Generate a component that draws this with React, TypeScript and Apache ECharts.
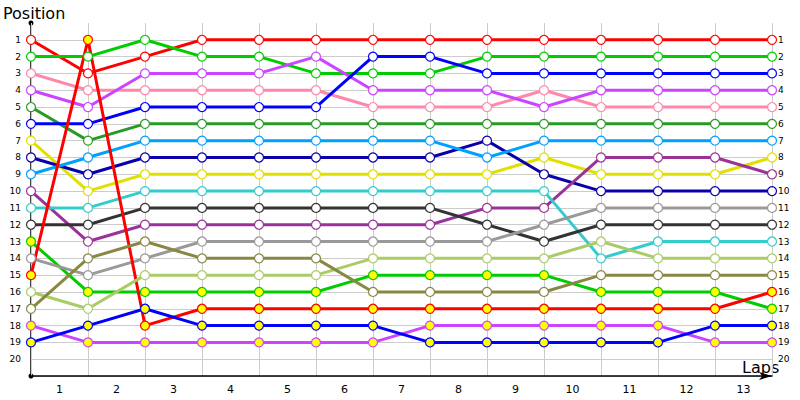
import {useEffect, useRef} from 'react';
import * as echarts from 'echarts';

// lap marks (start + 13 laps) and labels between them
const lapMarks = ['0', '1', '2', '3', '4', '5', '6', '7', '8', '9', '10', '11', '12', '13'];
const lapLabels = ['1', '2', '3', '4', '5', '6', '7', '8', '9', '10', '11', '12', '13'];

// position of each car at every lap mark
const car01 = [1, 3, 2, 1, 1, 1, 1, 1, 1, 1, 1, 1, 1, 1];
const car02 = [2, 2, 1, 2, 2, 3, 3, 3, 2, 2, 2, 2, 2, 2];
const car03 = [3, 4, 4, 4, 4, 4, 5, 5, 5, 4, 5, 5, 5, 5];
const car04 = [4, 5, 3, 3, 3, 2, 4, 4, 4, 5, 4, 4, 4, 4];
const car05 = [5, 7, 6, 6, 6, 6, 6, 6, 6, 6, 6, 6, 6, 6];
const car06 = [6, 6, 5, 5, 5, 5, 2, 2, 3, 3, 3, 3, 3, 3];
const car07 = [7, 10, 9, 9, 9, 9, 9, 9, 9, 8, 9, 9, 9, 8];
const car08 = [8, 9, 8, 8, 8, 8, 8, 8, 7, 9, 10, 10, 10, 10];
const car09 = [9, 8, 7, 7, 7, 7, 7, 7, 8, 7, 7, 7, 7, 7];
const car10 = [10, 13, 12, 12, 12, 12, 12, 12, 11, 11, 8, 8, 8, 9];
const car11 = [11, 11, 10, 10, 10, 10, 10, 10, 10, 10, 14, 13, 13, 13];
const car12 = [12, 12, 11, 11, 11, 11, 11, 11, 12, 13, 12, 12, 12, 12];
const car13 = [13, 16, 16, 16, 16, 16, 15, 15, 15, 15, 16, 16, 16, 17];
const car14 = [14, 15, 14, 13, 13, 13, 13, 13, 13, 12, 11, 11, 11, 11];
const car15 = [15, 1, 18, 17, 17, 17, 17, 17, 17, 17, 17, 17, 17, 16];
const car16 = [16, 17, 15, 15, 15, 15, 14, 14, 14, 14, 13, 14, 14, 14];
const car17 = [17, 14, 13, 14, 14, 14, 16, 16, 16, 16, 15, 15, 15, 15];
const car18 = [18, 19, 19, 19, 19, 19, 19, 18, 18, 18, 18, 18, 19, 19];
const car19 = [19, 18, 17, 18, 18, 18, 18, 19, 19, 19, 19, 19, 18, 18];

const cars = [car01, car02, car03, car04, car05, car06, car07, car08, car09, car10,
    car11, car12, car13, car14, car15, car16, car17, car18, car19];
const carColors = ['#ff0000', '#00cc00', '#ff88aa', '#cc44ff', '#279a27', '#0000ff', '#e0e000',
    '#0a00aa', '#00a0ff', '#993399', '#33cccc', '#333333', '#00cc00', '#999999', '#ff0000',
    '#aacc66', '#888844', '#cc44ff', '#0000ff'];
// cars drawn with yellow markers
const yellowCars = [13, 15, 18, 19];

const tickFont = 'DejaVu Sans';

const App = () => {
    const chartRef = useRef<HTMLDivElement>(null);

    useEffect(() => {
        const myChart = echarts.init(chartRef.current!, null, {renderer: 'svg'});

        const hideEnds = (v: number) => (v >= 1 && v <= 20 ? String(v) : '');
        // no grid line at position 0
        const hColors = Array.from({length: 22}, (_, i) => (i === 0 ? 'rgba(0,0,0,0)' : '#cccccc'));

        myChart.setOption({
            animation: false,
            backgroundColor: '#ffffff',
            grid: {left: 31, right: 28, top: 23, bottom: 24},
            xAxis: [
                {
                    type: 'category',
                    data: lapMarks,
                    boundaryGap: false,
                    position: 'bottom',
                    axisLabel: {show: false},
                    axisTick: {show: false},
                    axisLine: {
                        show: true,
                        onZero: false,
                        symbol: ['none', 'arrow'],
                        symbolSize: [6, 13],
                        lineStyle: {color: '#000', width: 1.5},
                    },
                    splitLine: {show: true, interval: 0, lineStyle: {color: '#cccccc', width: 1}},
                    z: 1,
                },
                {
                    type: 'category',
                    data: lapLabels,
                    boundaryGap: true,
                    position: 'bottom',
                    axisLine: {show: false, onZero: false},
                    axisTick: {show: false},
                    splitLine: {show: false},
                    axisLabel: {interval: 0, margin: 8, color: '#000', fontSize: 11, fontFamily: tickFont},
                },
            ],
            yAxis: [
                {
                    type: 'value',
                    min: 0,
                    max: 21,
                    interval: 1,
                    inverse: true,
                    axisLine: {
                        show: true,
                        onZero: false,
                        symbol: ['circle', 'circle'],
                        symbolSize: [5, 5],
                        lineStyle: {color: '#000', width: 1.5},
                    },
                    axisTick: {show: false},
                    axisLabel: {formatter: hideEnds, margin: 10, color: '#000', fontSize: 9, fontFamily: tickFont},
                    splitLine: {show: true, lineStyle: {color: hColors, width: 1}},
                },
                {
                    type: 'value',
                    position: 'right',
                    min: 0,
                    max: 21,
                    interval: 1,
                    inverse: true,
                    axisLine: {show: false},
                    axisTick: {show: false},
                    splitLine: {show: false},
                    axisLabel: {formatter: hideEnds, margin: 6, color: '#000', fontSize: 9, fontFamily: tickFont},
                },
            ],
            graphic: [
                {type: 'text', left: 3, top: 5, style: {text: 'Position', fontSize: 16, fontFamily: 'DejaVu Sans', fill: '#000'}},
                {type: 'text', left: 742, top: 359, style: {text: 'Laps', fontSize: 16, fontFamily: 'DejaVu Sans', fill: '#000'}},
            ],
            series: cars.map((data, i) => ({
                type: 'line',
                data,
                xAxisIndex: 0,
                yAxisIndex: 0,
                symbol: 'circle',
                symbolSize: 9,
                lineStyle: {color: carColors[i], width: 3},
                itemStyle: {
                    color: yellowCars.includes(i + 1) ? '#ffff00' : '#ffffff',
                    borderColor: carColors[i],
                    borderWidth: 1.2,
                },
                emphasis: {disabled: true},
            })),
        });

        return () => {
            myChart.dispose();
        };
    }, []);

    return (
        <div
            ref={chartRef}
            style={{position: 'fixed', left: 0, top: 0, width: '800px', height: '400px'}}
        />
    );
};

export default App;
